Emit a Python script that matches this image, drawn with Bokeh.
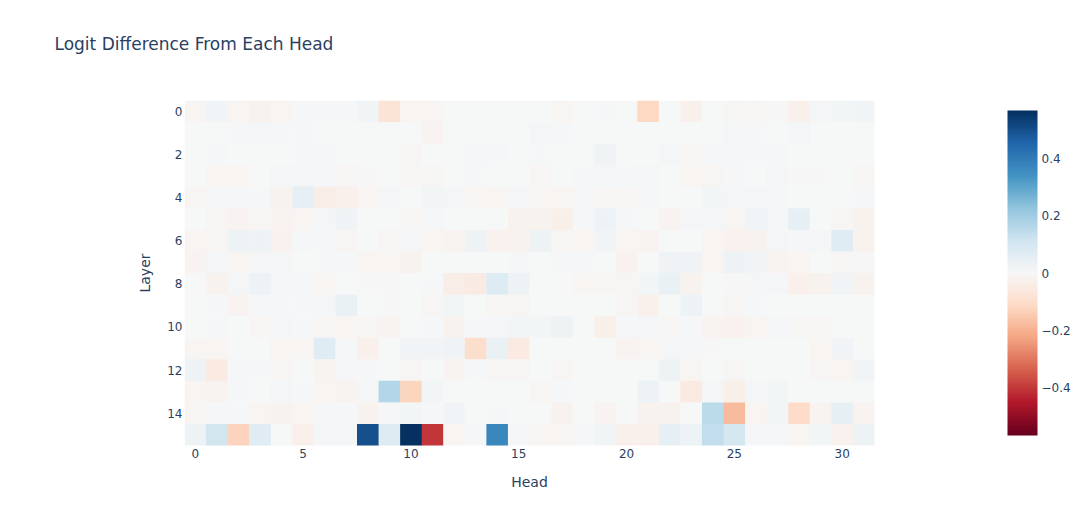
import numpy as np
from bokeh.plotting import figure
from bokeh.models import (LinearColorMapper, ColorBar, FixedTicker, ColumnDataSource,
                          Range1d, CustomJSTickFormatter, Title)
from bokeh.embed import file_html
from bokeh.resources import INLINE

heads = list(range(32))
layers = list(range(16))

layer_0 = [-0.01, 0.02, -0.01, -0.02, -0.01, 0.005, 0.005, 0.005, 0.02, -0.08, -0.01, -0.01, 0, 0, 0, 0,
           0, -0.01, 0.003, 0.005, 0, -0.12, 0, -0.03, 0, -0.005, -0.005, -0.003, -0.03, 0.01, 0.015, 0.02]
layer_1 = [0, 0, 0.005, 0.01, 0.005, 0.005, 0, 0, 0, 0, 0, -0.015, 0.003, 0, 0, 0,
           0.01, 0.005, 0, 0, 0, 0, 0, 0, 0, 0.01, 0.005, 0, 0.01, 0, 0, 0]
layer_2 = [0, 0.005, 0.003, 0, 0, 0.005, 0.01, 0, 0.003, 0, -0.005, 0, 0, 0.01, 0.005, 0,
           0.005, 0, 0.003, 0.025, 0, 0.003, 0.01, -0.005, 0.01, 0.01, 0.005, 0.005, 0, 0, 0, 0]
layer_3 = [0, -0.01, -0.01, 0, 0.01, 0.01, 0.005, -0.005, -0.003, 0, -0.005, -0.005, 0.003, 0.005, 0, 0,
           -0.005, 0, 0.005, 0.01, 0.005, 0.01, 0, -0.01, -0.005, 0.005, 0, 0.01, -0.003, -0.003, 0, -0.005]
layer_4 = [-0.01, 0.005, 0.005, 0.005, -0.02, 0.05, -0.04, -0.03, -0.01, 0.01, 0, 0.015, 0.01, -0.01, -0.01, 0.01,
           -0.01, -0.01, 0.01, -0.005, -0.005, 0.01, 0, 0, 0.015, 0.01, 0.01, 0.005, 0.003, 0.003, 0.003, 0.005]
layer_5 = [0, -0.005, -0.015, -0.005, -0.015, -0.01, 0.01, 0.025, 0, 0, -0.005, 0.01, 0, 0.003, 0, -0.02,
           -0.02, -0.035, 0.005, 0.035, 0.005, 0, -0.015, 0.01, 0.01, -0.01, 0.02, 0.01, 0.05, 0, -0.005, -0.02]
layer_6 = [-0.01, -0.005, 0.03, 0.03, -0.025, 0.005, 0.005, -0.005, 0.003, -0.005, 0.01, -0.01, -0.015, 0.03, -0.025, -0.02,
           0.03, -0.005, -0.01, 0.02, -0.01, -0.015, 0, 0, -0.01, -0.025, -0.02, 0.01, 0.005, 0.01, 0.07, -0.025]
layer_7 = [-0.015, 0.01, -0.01, 0.01, 0.01, 0, 0.005, 0.005, -0.01, -0.01, -0.02, 0, 0, 0, 0.003, 0.005,
           0, 0.01, 0.005, 0, -0.025, 0, 0.025, 0.025, -0.01, 0.03, 0.02, -0.015, -0.01, 0, -0.005, -0.003]
layer_8 = [0, -0.02, 0.01, 0.035, 0.01, 0.01, -0.01, 0, -0.003, -0.003, 0, 0.005, -0.04, -0.045, 0.08, 0.03,
           0, 0, -0.01, -0.005, -0.005, 0.015, 0.04, -0.02, 0, -0.003, 0.01, 0.01, -0.03, -0.02, 0.02, -0.02]
layer_9 = [0, 0.005, -0.015, 0.005, 0.005, 0.005, 0.01, 0.04, 0, -0.003, 0, -0.005, 0.015, 0, -0.005, -0.005,
           0, 0, 0, 0, -0.005, -0.03, 0, 0.035, 0, -0.005, 0.005, 0.003, 0, 0, 0, 0]
layer_10 = [0.003, 0.005, 0, -0.005, 0.01, 0.005, -0.005, -0.01, -0.005, -0.015, 0, 0.005, -0.02, 0.005, 0.01, 0.015,
            0.015, 0.03, 0.003, -0.035, 0.005, 0.01, -0.005, 0.005, -0.015, -0.025, -0.01, 0.01, -0.005, -0.005, 0, 0]
layer_11 = [-0.01, -0.01, 0, 0, -0.01, -0.01, 0.07, 0.005, -0.03, 0, 0.02, 0.02, 0.025, -0.10, 0.04, -0.05,
            0, 0, 0.003, 0, -0.015, -0.01, 0.01, 0.01, -0.003, 0, 0.003, 0, 0, -0.01, 0.02, 0]
layer_12 = [0.03, -0.05, 0.005, 0.005, -0.005, 0, -0.015, 0.01, 0.005, 0, -0.005, 0, -0.015, 0.005, -0.005, -0.005,
            0, -0.005, 0, 0, 0, 0, 0.03, -0.01, 0, -0.005, 0, 0, 0.003, -0.005, -0.01, 0.02]
layer_13 = [-0.01, -0.015, 0.005, 0.003, 0.01, 0.005, -0.01, -0.015, 0.01, 0.166, -0.127, 0.015, 0, 0.003, 0.003, 0,
            -0.005, 0.005, 0, 0, 0, 0.035, 0, -0.05, 0.01, -0.035, 0.01, 0.015, 0, 0, 0, 0]
layer_14 = [-0.01, 0.005, 0.005, -0.01, -0.02, -0.01, 0.005, 0.005, -0.02, 0.005, 0.015, 0.005, 0.02, 0, 0.005, 0,
            0, -0.02, 0.003, -0.015, 0, -0.02, -0.02, 0, 0.155, -0.181, -0.01, 0.015, -0.11, -0.015, 0.05, -0.015]
layer_15 = [0.03, 0.11, -0.13, 0.07, 0, -0.03, 0.01, 0.01, 0.50, 0.08, 0.57, -0.407, -0.01, 0.005, 0.37, 0.005,
            -0.01, -0.01, 0.005, 0.02, -0.03, -0.03, 0.05, 0.035, 0.14, 0.10, 0.005, 0.005, -0.01, 0.015, -0.025, 0.03]

layer_values = [layer_0, layer_1, layer_2, layer_3, layer_4, layer_5, layer_6, layer_7,
                layer_8, layer_9, layer_10, layer_11, layer_12, layer_13, layer_14, layer_15]

title_text = "Logit Difference From Each Head"
x_ticks = [0, 5, 10, 15, 20, 25, 30]
y_ticks = [0, 2, 4, 6, 8, 10, 12, 14]
cbar_ticks = [-0.4, -0.2, 0, 0.2, 0.4]
z_limit = 0.57

rdbu_stops = ['#67001f', '#b2182b', '#d6604d', '#f4a582', '#fddbc7', '#f7f7f7',
              '#d1e5f0', '#92c5de', '#4393c3', '#2166ac', '#053061']


def build_palette(stops, n=256):
    rgb = np.array([[int(s[i:i + 2], 16) for i in (1, 3, 5)] for s in stops], dtype=float)
    pos = np.linspace(0, 1, len(stops))
    out = []
    for t in np.linspace(0, 1, n):
        r = np.interp(t, pos, rgb[:, 0])
        g = np.interp(t, pos, rgb[:, 1])
        b = np.interp(t, pos, rgb[:, 2])
        out.append('#%02x%02x%02x' % (int(round(r)), int(round(g)), int(round(b))))
    return out


palette = build_palette(rdbu_stops)
mapper = LinearColorMapper(palette=palette, low=-z_limit, high=z_limit)

xs, ys, zs = [], [], []
for li, row in zip(layers, layer_values):
    for hi, v in zip(heads, row):
        xs.append(hi)
        ys.append(li)
        zs.append(v)
source = ColumnDataSource(data=dict(head=xs, layer=ys, value=zs))

FONT = "DejaVu Sans"
TXT = "#2a3f5f"

p = figure(frame_width=690, frame_height=345,
           x_range=Range1d(-0.5, 31.5), y_range=Range1d(15.5, -0.5),
           output_backend="svg", toolbar_location=None,
           min_border_left=184, min_border_top=100, min_border_bottom=10, min_border_right=190)

p.rect(x="head", y="layer", width=1, height=1, source=source,
       fill_color={'field': 'value', 'transform': mapper},
       line_color=None, dilate=True)

# spacer between title and plot area, then the title itself
spacer = Title(text=" ", text_font_size="1px", standoff=44)
p.add_layout(spacer, "above")
main_title = Title(text=title_text, text_font=FONT, text_font_size="17px",
                   text_font_style="normal", text_color=TXT, offset=-130, standoff=0)
p.add_layout(main_title, "above")

p.grid.visible = False
p.outline_line_color = None
p.background_fill_color = "white"
p.border_fill_color = "white"

for ax in (p.xaxis[0], p.yaxis[0]):
    ax.axis_line_color = None
    ax.major_tick_line_color = None
    ax.minor_tick_line_color = None
    ax.major_tick_out = 0
    ax.major_tick_in = 0
    ax.minor_tick_out = 0
    ax.minor_tick_in = 0
    ax.major_label_text_font = FONT
    ax.major_label_text_font_size = "12px"
    ax.major_label_text_color = TXT
    ax.axis_label_text_font = FONT
    ax.axis_label_text_font_size = "14px"
    ax.axis_label_text_font_style = "normal"
    ax.axis_label_text_color = TXT

p.xaxis.ticker = FixedTicker(ticks=x_ticks)
p.yaxis.ticker = FixedTicker(ticks=y_ticks)
p.xaxis.axis_label = "Head"
p.yaxis.axis_label = "Layer"
p.xaxis.major_label_standoff = 3
p.yaxis.major_label_standoff = 2
p.xaxis.axis_label_standoff = 13
p.yaxis.axis_label_standoff = 11

cb = ColorBar(color_mapper=mapper, width=30, height=325,
              ticker=FixedTicker(ticks=cbar_ticks),
              formatter=CustomJSTickFormatter(code="return tick == 0 ? '0' : tick.toFixed(1).replace('-', '\u2212');"),
              major_tick_line_color=None, minor_tick_line_color=None,
              major_tick_out=0, major_tick_in=0,
              bar_line_color=None, border_line_color=None,
              background_fill_color=None,
              major_label_text_font=FONT, major_label_text_font_size="12px",
              major_label_text_color=TXT, label_standoff=4,
              padding=0, margin=0, location=(133, 10))
p.add_layout(cb, "right")

open("out.html", "w").write(file_html(p, INLINE))
